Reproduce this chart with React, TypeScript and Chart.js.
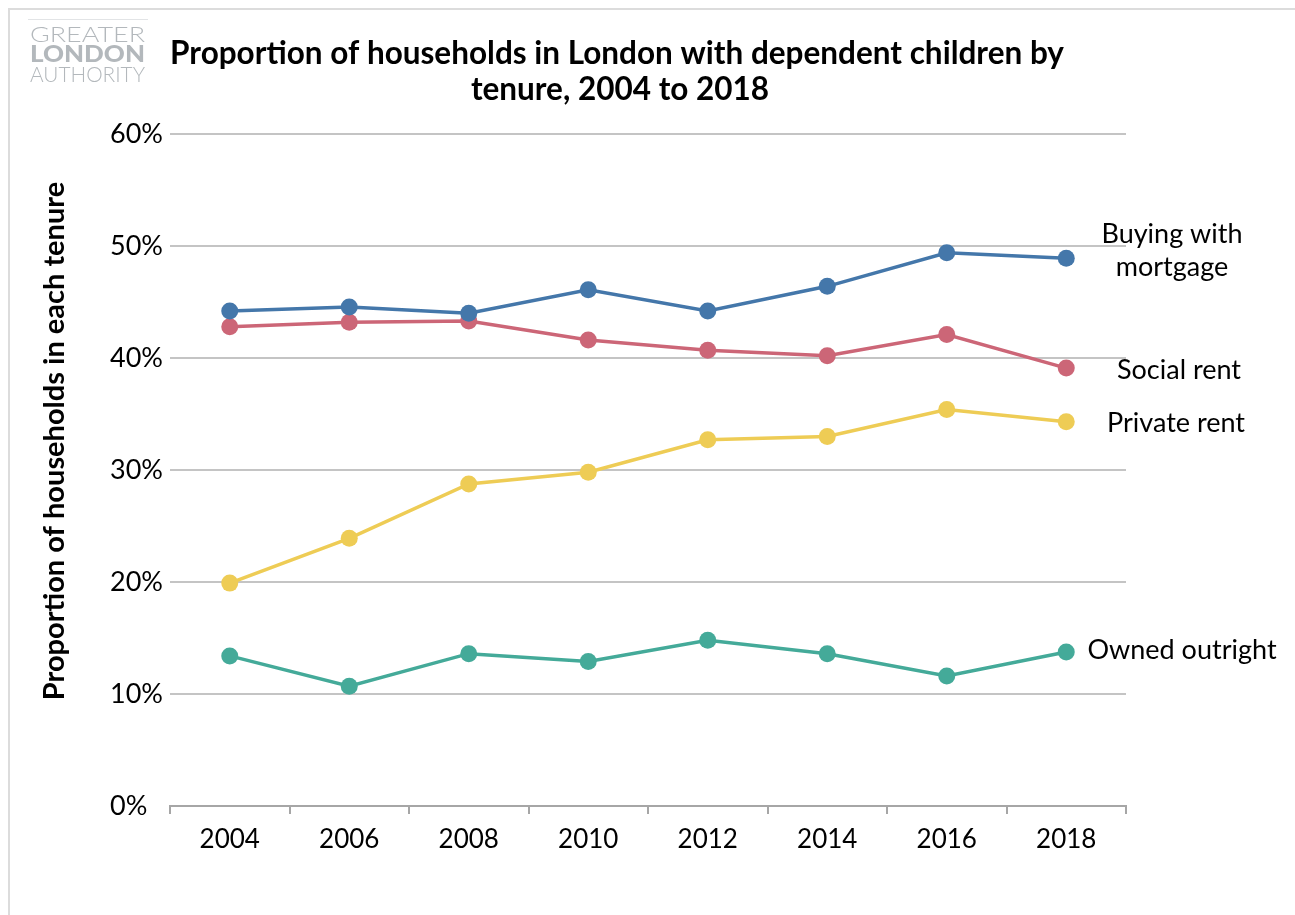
import React, { useEffect, useRef } from "react";
import { Chart, registerables } from "chart.js";

Chart.register(...registerables);

const years = ["2004", "2006", "2008", "2010", "2012", "2014", "2016", "2018"];
const mortgage = [44.2, 44.55, 44.0, 46.1, 44.2, 46.4, 49.4, 48.9];
const socialRent = [42.8, 43.2, 43.3, 41.6, 40.7, 40.2, 42.1, 39.1];
const privateRent = [19.9, 23.9, 28.75, 29.8, 32.7, 33.0, 35.4, 34.3];
const ownedOutright = [13.4, 10.7, 13.6, 12.9, 14.8, 13.6, 11.6, 13.75];
const seriesNames = ["Buying with\nmortgage", "Social rent", "Private rent", "Owned outright"];
const seriesColors = ["#4477AA", "#CC6677", "#EECC55", "#44AA99"];
const yTicks = [0, 10, 20, 30, 40, 50, 60];
const titleLines = ["Proportion of households in London with dependent children by", "tenure, 2004 to 2018"];
const yTitle = "Proportion of households in each tenure";
const logoLines = ["GREATER", "LONDON", "AUTHORITY"];

const FONT = "Lato, 'Open Sans', sans-serif";

export default function App() {
  const ref = useRef<HTMLCanvasElement | null>(null);
  useEffect(() => {
    const prevOverflow = document.body.style.overflow;
    document.body.style.overflow = "hidden";
    document.documentElement.style.overflow = "hidden";
    const canvas = ref.current;
    if (!canvas) return;
    const allSeries = [mortgage, socialRent, privateRent, ownedOutright];
    const decor = {
      id: "decor",
      afterDraw(chart: any) {
        const ctx = chart.ctx;
        ctx.save();
        // logo
        ctx.strokeStyle = "#e2e4e6";
        ctx.lineWidth = 1;
        ctx.beginPath();
        ctx.moveTo(18, 9.5);
        ctx.lineTo(138, 9.5);
        ctx.stroke();
        ctx.fillStyle = "#b3b8bc";
        ctx.textAlign = "left";
        ctx.textBaseline = "middle";
        const logoFonts = [`300 22px ${FONT}`, `900 22px ${FONT}`, `300 22px ${FONT}`];
        const logoY = [25, 45, 65];
        logoLines.forEach((t, i) => {
          ctx.save();
          ctx.font = logoFonts[i];
          const w = ctx.measureText(t).width;
          ctx.translate(20, logoY[i]);
          ctx.scale(115 / w, 1);
          ctx.fillText(t, 0, 0);
          ctx.restore();
        });
        // title
        ctx.fillStyle = "#000";
        ctx.textAlign = "center";
        ctx.font = `bold 31.5px ${FONT}`;
        ctx.fillText(titleLines[0], 607, 44);
        ctx.fillText(titleLines[1], 610, 80);
        // y axis title
        ctx.save();
        ctx.translate(45, 431);
        ctx.rotate(-Math.PI / 2);
        ctx.font = `bold 29px ${FONT}`;
        ctx.fillText(yTitle, 0, 0);
        ctx.restore();
        // end labels
        ctx.font = `27px ${FONT}`;
        const labelX = [1162, 1169, 1166, 1172];
        const yOff = [
          [-24, 9],
          [2, 0],
          [1, 0],
          [-2, 0],
        ];
        chart.data.datasets.forEach((ds: any, i: number) => {
          const meta = chart.getDatasetMeta(i);
          const pt = meta.data[meta.data.length - 1];
          const lines = seriesNames[i].split("\n");
          lines.forEach((ln: string, j: number) => {
            ctx.fillText(ln, labelX[i], pt.y + yOff[i][j]);
          });
        });
        ctx.restore();
      },
    };
    const chart = new Chart(canvas, {
      type: "line",
      data: {
        labels: years,
        datasets: allSeries.map((d, i) => ({
          label: seriesNames[i],
          data: d,
          borderColor: seriesColors[i],
          backgroundColor: seriesColors[i],
          pointBackgroundColor: seriesColors[i],
          pointBorderColor: seriesColors[i],
          borderWidth: 3.5,
          pointRadius: 8.5,
          pointBorderWidth: 0,
          tension: 0,
        })),
      },
      options: {
        responsive: false,
        animation: false,
        layout: { padding: { left: 100, right: 161, top: 124, bottom: 39 } },
        plugins: { legend: { display: false }, title: { display: false }, tooltip: { enabled: false } },
        scales: {
          x: {
            type: "category",
            offset: true,
            afterFit(scale: any) {
              scale.height = 60;
            },
            grid: {
              display: true,
              drawOnChartArea: false,
              drawTicks: true,
              tickLength: 8,
              color: "#a6a6a6",
              lineWidth: 2,
              offset: true,
            },
            border: { display: true, color: "#a6a6a6", width: 2 },
            ticks: {
              color: "#000",
              font: { family: FONT, size: 26 },
              padding: 10,
              maxRotation: 0,
            },
          },
          y: {
            min: 0,
            max: 60,
            afterFit(scale: any) {
              scale.width = 60;
            },
            afterBuildTicks(scale: any) {
              scale.ticks = yTicks.map((v) => ({ value: v }));
            },
            grid: { color: "#c4c4c4", lineWidth: 2, drawTicks: false },
            border: { display: false },
            ticks: {
              color: "#000",
              font: { family: FONT, size: 27 },
              crossAlign: "far",
              padding: 23,
              callback: (v: any) => `${v}%`,
            },
          },
        },
      },
      plugins: [decor],
    });
    return () => {
      chart.destroy();
      document.body.style.overflow = prevOverflow;
    };
  }, []);
  return (
    <div
      style={{
        position: "absolute",
        left: 8,
        top: 8,
        width: 1400,
        height: 1000,
        borderTop: "2px solid #dcdcdc",
        borderLeft: "2px solid #dcdcdc",
        background: "#fff",
      }}
    >
      <canvas ref={ref} width={1277} height={895} style={{ position: "absolute", left: 0, top: 0, display: "block" }} />
    </div>
  );
}
